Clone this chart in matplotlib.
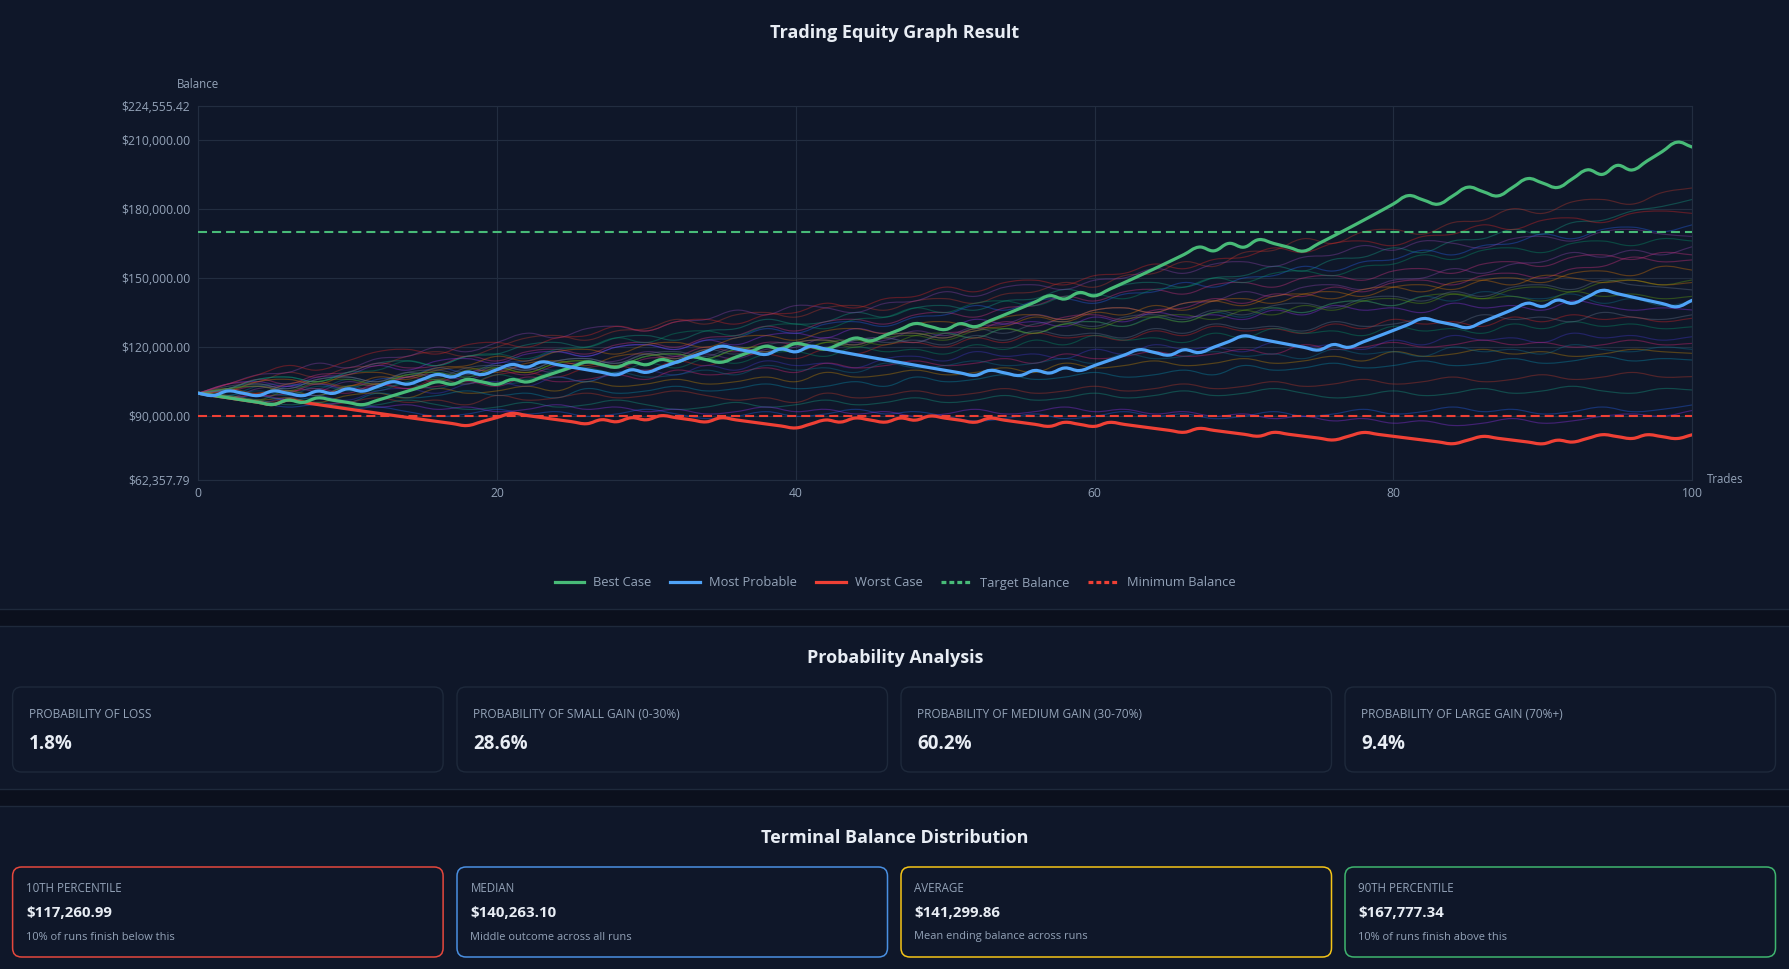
import matplotlib
matplotlib.use('Agg')
import matplotlib.pyplot as plt
import numpy as np
from matplotlib.path import Path
from matplotlib.patches import PathPatch, FancyBboxPatch, Rectangle
from matplotlib.lines import Line2D

plt.rcParams['font.family'] = ['Open Sans', 'DejaVu Sans']
plt.rcParams['lines.scale_dashes'] = False

# ---- data ----
trades = np.arange(0, 101)

best_case = [100000, 99000, 98010, 97030, 96060, 95099, 97001, 96031, 97952, 96972,
             96002, 95042, 96943, 98882, 100860, 102877, 104935, 103885, 105963, 104903,
             103854, 105931, 104872, 106969, 109109, 111291, 113517, 112382, 111258, 113483,
             112348, 114595, 113449, 115718, 114561, 113415, 115684, 117997, 120357, 119154,
             121537, 120321, 119118, 121500, 123930, 122691, 125144, 127647, 130200, 128898,
             127609, 130161, 128860, 131437, 134066, 136747, 139482, 142272, 140849, 143666,
             142229, 145074, 147975, 150935, 153954, 157033, 160174, 163377, 161743, 164978,
             163328, 166595, 164929, 163280, 161647, 164880, 168178, 171541, 174972, 178471,
             182041, 185681, 183824, 181986, 185626, 189338, 187445, 185571, 189282, 193068,
             191137, 189226, 193010, 196870, 194902, 198800, 196812, 200748, 204763, 208858,
             206769]

most_probable = [100000, 99000, 100980, 99970, 98970, 100950, 99940, 98941, 100920, 99911,
                 101909, 100890, 102908, 104966, 103916, 105995, 108115, 107034, 109174, 108082,
                 110244, 112449, 111324, 113551, 112415, 111291, 110178, 109076, 107985, 110145,
                 109044, 111225, 113449, 115718, 118033, 120393, 119189, 117997, 116817, 119154,
                 117962, 120322, 119119, 117928, 116748, 115581, 114425, 113281, 112148, 111027,
                 109916, 108817, 107729, 109884, 108785, 107697, 109851, 108753, 110928, 109819,
                 112015, 114255, 116540, 118871, 117682, 116505, 118835, 117647, 119999, 122399,
                 124847, 123599, 122363, 121139, 119928, 118729, 121103, 119892, 122290, 124736,
                 127231, 129775, 132371, 131047, 129737, 128439, 131008, 133628, 136301, 139027,
                 137636, 140389, 138985, 141765, 144600, 143154, 141722, 140305, 138902, 137513,
                 140263]

worst_case = [100000, 99000, 98010, 97030, 96060, 95099, 97001, 96031, 95071, 94120,
              93179, 92247, 91325, 90411, 89507, 88612, 87726, 86849, 85980, 87700,
              89454, 91243, 90330, 89427, 88533, 87647, 86771, 88506, 87621, 89373,
              88479, 90249, 89346, 88453, 87568, 89320, 88427, 87542, 86667, 85800,
              84942, 86641, 88374, 87490, 89240, 88348, 87464, 89214, 88322, 90088,
              89188, 88296, 87413, 89161, 88270, 87387, 86513, 85648, 87361, 86487,
              85622, 87335, 86461, 85597, 84741, 83893, 83054, 84715, 83868, 83030,
              82199, 81377, 83005, 82175, 81353, 80540, 79734, 81329, 82955, 82126,
              81305, 80492, 79687, 78890, 78101, 79663, 81256, 80444, 79639, 78843,
              78055, 79616, 78820, 80396, 82004, 81184, 80372, 81980, 81160, 80349,
              81956]

target_balance = 170000
minimum_balance = 90000

# the faint simulation runs, sampled every 2 trades (values in $k)
run01 = [100, 104, 105, 109, 107, 111, 112, 116, 118, 116, 120, 124, 125, 123, 127, 128, 132, 130, 134, 135, 133,
         137, 138, 136, 140, 141, 139, 143, 144, 148, 146, 151, 152, 157, 155, 161, 162, 167, 165, 170, 171,
         169, 174, 175, 180, 178, 183, 184, 182, 187, 189]
run02 = [100, 102, 106, 107, 105, 109, 113, 114, 112, 116, 117, 121, 122, 120, 124, 125, 123, 127, 128, 132, 130,
         131, 135, 133, 137, 138, 136, 140, 141, 145, 143, 147, 148, 146, 150, 151, 155, 153, 158, 159, 163,
         161, 166, 167, 171, 169, 174, 175, 179, 181, 184]
run03 = [100, 101, 99, 103, 104, 102, 106, 107, 111, 109, 113, 114, 118, 116, 120, 121, 119, 123, 124, 128, 126,
         130, 131, 129, 133, 134, 138, 136, 140, 141, 139, 143, 144, 148, 146, 150, 151, 155, 153, 157, 158,
         162, 160, 164, 165, 169, 167, 171, 172, 170, 173]
run04 = [100, 98, 102, 103, 101, 105, 103, 107, 108, 106, 110, 111, 109, 113, 114, 118, 116, 117, 115, 119, 120,
         124, 122, 123, 127, 125, 129, 130, 134, 132, 136, 137, 135, 139, 140, 144, 142, 146, 147, 145, 149,
         150, 154, 152, 156, 157, 161, 159, 162, 160, 163.5]
run05 = [100, 101, 99, 100, 104, 102, 103, 107, 105, 109, 110, 108, 112, 113, 111, 115, 116, 120, 118, 122, 121,
         119, 123, 124, 122, 126, 127, 131, 129, 133, 134, 132, 136, 137, 141, 139, 143, 142, 146, 144, 148,
         149, 147, 151, 152, 150, 154, 155, 159, 157, 157.8]
run06 = [100, 102, 100, 104, 105, 103, 107, 106, 110, 111, 109, 113, 114, 112, 116, 117, 115, 119, 120, 118, 122,
         123, 121, 125, 126, 124, 128, 129, 133, 131, 135, 134, 138, 136, 140, 141, 139, 143, 144, 142, 146,
         147, 145, 149, 150, 148, 152, 153, 151, 155, 153.4]
run07 = [100, 98, 97, 101, 99, 103, 104, 108, 106, 110, 111, 109, 113, 114, 112, 116, 117, 115, 119, 120, 118,
         122, 123, 121, 125, 126, 124, 128, 126, 130, 131, 129, 133, 134, 132, 136, 137, 135, 139, 140, 138,
         142, 143, 141, 145, 146, 144, 148, 149, 147, 149.1]
run08 = [100, 102, 104, 102, 106, 107, 105, 109, 107, 111, 112, 110, 114, 115, 113, 117, 118, 116, 120, 118, 122,
         123, 121, 125, 126, 124, 128, 126, 130, 131, 129, 133, 134, 132, 136, 134, 138, 139, 137, 141, 142,
         140, 144, 142, 146, 147, 145, 149, 147, 146, 144.8]
run09 = [100, 99, 103, 104, 102, 106, 104, 108, 109, 107, 111, 112, 110, 114, 112, 116, 117, 115, 119, 117, 121,
         119, 123, 124, 122, 126, 124, 128, 126, 130, 131, 129, 133, 131, 135, 133, 137, 135, 139, 140, 138,
         142, 140, 144, 142, 141, 143, 139, 141, 138, 139.7]
run10 = [100, 104, 105, 103, 107, 108, 112, 110, 114, 115, 113, 117, 118, 116, 120, 121, 119, 123, 121, 125, 126,
         124, 128, 126, 130, 128, 132, 130, 131, 129, 133, 131, 135, 133, 134, 132, 136, 134, 138, 136, 137,
         135, 139, 137, 138, 136, 140, 138, 136, 137, 136.1]
run11 = [100, 98, 100, 101, 99, 103, 104, 102, 106, 104, 108, 109, 107, 111, 112, 110, 114, 112, 116, 117, 115,
         119, 117, 121, 122, 120, 124, 122, 126, 124, 125, 123, 127, 125, 129, 127, 128, 126, 130, 128, 132,
         130, 131, 129, 133, 131, 134, 132, 133, 131, 132.5]
run12 = [100, 102, 103, 101, 99, 103, 101, 105, 106, 104, 108, 106, 110, 111, 109, 113, 111, 115, 113, 117, 118,
         116, 120, 118, 119, 117, 121, 119, 123, 121, 125, 123, 124, 122, 126, 124, 128, 126, 127, 125, 129,
         127, 128, 126, 130, 128, 131, 129, 130, 128, 128.8]
run13 = [100, 98, 96, 98, 99, 97, 101, 102, 100, 104, 105, 103, 107, 105, 109, 110, 108, 112, 110, 114, 112,
         113, 111, 115, 116, 114, 118, 116, 117, 115, 119, 117, 121, 119, 120, 118, 122, 120, 121, 119, 123,
         121, 125, 123, 124, 122, 126, 124, 125, 123, 124.5]
run14 = [100, 101, 103, 101, 102, 100, 104, 102, 103, 105, 103, 107, 105, 106, 108, 106, 110, 108, 109, 111, 109,
         113, 111, 112, 114, 112, 113, 115, 113, 117, 115, 116, 118, 116, 117, 119, 117, 121, 119, 120, 122,
         120, 121, 123, 121, 122, 120, 121, 123, 121, 121.6]
run15 = [100, 99, 97, 98, 96, 99, 100, 98, 102, 100, 101, 103, 101, 105, 103, 104, 106, 104, 105, 107, 105,
         109, 107, 108, 110, 108, 109, 111, 109, 113, 111, 112, 114, 112, 113, 115, 113, 114, 116, 114, 118,
         116, 117, 119, 117, 118, 116, 117, 119, 118, 117.3]
run16 = [100, 101, 99, 97, 98, 96, 100, 98, 99, 101, 99, 100, 98, 102, 100, 101, 103, 101, 102, 104, 102,
         103, 105, 103, 107, 105, 106, 108, 106, 107, 109, 107, 108, 110, 108, 112, 110, 111, 113, 111, 112,
         114, 112, 113, 115, 113, 114, 116, 114, 115, 114.4]
run17 = [100, 98, 96, 97, 95, 96, 98, 96, 97, 95, 99, 97, 98, 100, 98, 99, 101, 99, 97, 98, 96,
         100, 98, 99, 101, 99, 100, 102, 100, 101, 103, 101, 102, 104, 102, 103, 105, 103, 104, 106, 104,
         105, 107, 105, 106, 108, 106, 107, 109, 107, 107.2]
run18 = [100, 99, 97, 95, 96, 94, 95, 97, 95, 93, 94, 96, 94, 95, 97, 95, 93, 94, 96, 94, 95,
         97, 95, 96, 98, 96, 97, 99, 97, 98, 100, 98, 99, 101, 99, 100, 102, 100, 98, 99, 101,
         99, 100, 102, 100, 101, 103, 101, 100, 102, 101.4]
run19 = [100, 98, 96, 94, 95, 93, 94, 92, 90, 91, 93, 91, 92, 90, 91, 93, 91, 89, 90, 92, 90,
         91, 93, 91, 92, 90, 88, 89, 91, 89, 90, 92, 90, 91, 89, 90, 92, 90, 91, 93, 91,
         92, 94, 92, 93, 91, 92, 94, 92, 93, 94.9]
run20 = [100, 104, 108, 109, 113, 111, 115, 116, 120, 118, 122, 126, 124, 128, 129, 127, 131, 132, 136, 134, 138,
         137, 135, 139, 140, 144, 142, 146, 147, 145, 149, 150, 154, 152, 156, 157, 155, 159, 160, 164, 162,
         166, 165, 163, 167, 168, 166, 170, 171, 169, 168]
run21 = [100, 102, 106, 104, 108, 109, 113, 111, 112, 116, 114, 118, 119, 117, 121, 122, 120, 124, 125, 129, 127,
         131, 132, 130, 134, 135, 133, 137, 138, 142, 140, 144, 145, 143, 147, 148, 146, 150, 151, 149, 153,
         154, 152, 156, 157, 155, 159, 160, 158, 161, 160]
run22 = [100, 101, 105, 106, 104, 108, 109, 107, 111, 112, 116, 114, 118, 119, 117, 121, 122, 120, 124, 125, 123,
         127, 128, 126, 130, 131, 129, 133, 134, 132, 136, 137, 135, 139, 140, 138, 142, 143, 141, 145, 146,
         144, 148, 149, 147, 151, 150, 148, 149, 147, 148]
run23 = [100, 102, 103, 101, 105, 106, 104, 108, 109, 107, 111, 109, 113, 114, 112, 116, 117, 115, 119, 120, 118,
         122, 120, 124, 125, 123, 127, 128, 126, 130, 128, 132, 133, 131, 135, 136, 134, 138, 136, 140, 141,
         139, 143, 141, 142, 140, 144, 142, 143, 141, 142]
run24 = [100, 103, 104, 102, 106, 107, 105, 109, 110, 108, 112, 110, 114, 115, 113, 117, 115, 119, 117, 121, 122,
         120, 124, 122, 123, 121, 125, 123, 127, 125, 126, 124, 128, 126, 130, 128, 129, 127, 131, 129, 130,
         132, 130, 134, 132, 133, 131, 135, 133, 132, 134]
run25 = [100, 99, 101, 99, 103, 101, 102, 104, 102, 106, 104, 105, 107, 105, 109, 107, 108, 110, 108, 112, 110,
         111, 109, 113, 111, 112, 114, 112, 113, 115, 113, 117, 115, 116, 118, 116, 117, 115, 119, 117, 118,
         116, 120, 118, 119, 117, 121, 119, 118, 120, 119]
run26 = [100, 98, 99, 97, 95, 96, 94, 95, 93, 94, 92, 93, 95, 93, 94, 92, 93, 91, 92, 94, 92,
         93, 91, 92, 90, 91, 93, 91, 92, 94, 92, 93, 91, 92, 90, 91, 89, 90, 88, 89, 87,
         88, 86, 87, 89, 87, 88, 90, 91, 90, 92.5]
run27 = [100, 104, 108, 112, 110, 114, 118, 119, 117, 121, 122, 120, 124, 125, 129, 127, 131, 132, 130, 134, 135,
         139, 137, 141, 142, 146, 144, 148, 149, 147, 151, 152, 156, 154, 158, 159, 163, 161, 165, 166, 164,
         168, 169, 173, 171, 175, 176, 174, 178, 179, 178]
run28 = [100, 102, 106, 107, 105, 109, 110, 114, 112, 116, 117, 115, 119, 120, 124, 122, 126, 127, 125, 129, 130,
         128, 132, 133, 137, 135, 139, 140, 138, 142, 143, 141, 145, 146, 150, 148, 152, 153, 151, 155, 156,
         160, 158, 162, 163, 161, 165, 166, 164, 167, 166]
other_runs = [run01, run02, run03, run04, run05, run06, run07, run08, run09, run10, run11, run12, run13, run14,
              run15, run16, run17, run18, run19, run20, run21, run22, run23, run24, run25, run26, run27, run28]

y_min, y_max = 62357.79, 224555.42
y_ticks = [62357.79, 90000, 120000, 150000, 180000, 210000, 224555.42]
x_ticks = [0, 20, 40, 60, 80, 100]

legend_labels = ['Best Case', 'Most Probable', 'Worst Case', 'Target Balance', 'Minimum Balance']

prob_labels = ['PROBABILITY OF LOSS', 'PROBABILITY OF SMALL GAIN (0-30%)',
               'PROBABILITY OF MEDIUM GAIN (30-70%)', 'PROBABILITY OF LARGE GAIN (70%+)']
prob_values = ['1.8%', '28.6%', '60.2%', '9.4%']

term_labels = ['10TH PERCENTILE', 'MEDIAN', 'AVERAGE', '90TH PERCENTILE']
term_values = [117260.99, 140263.10, 141299.86, 167777.34]
term_notes = ['10% of runs finish below this', 'Middle outcome across all runs',
              'Mean ending balance across runs', '10% of runs finish above this']

# ---- styles ----
W, H = 1790, 969
PANEL = '#0f1729'
GAP = '#0b101d'
BORDER = '#1e293b'
GRID = '#222d40'
MUTED = '#94a3b8'
WHITE = '#e8edf4'
GREEN = '#48bb78'
BLUE = '#4fa3f7'
RED = '#ef4035'
run_colors = ['#c0392b', '#16a085', '#2563eb', '#8e44ad', '#d63384', '#d97706', '#65a30d',
              '#64748b', '#0e7490', '#9333ea', '#dc2626', '#059669', '#4338ca', '#db2777',
              '#ca8a04', '#0891b2']
card_colors = ['#e5483d', '#4a90e2', '#f5c518', '#3fb56f']


def smooth_line(ax, xs, ys, sx, sy, tension=0.4, **kw):
    # chart.js style bezier through every point
    px = np.asarray(xs, float) * sx
    py = np.asarray(ys, float) * sy
    n = len(px)
    cin, cout = [], []
    for i in range(n):
        a, b = max(i - 1, 0), min(i + 1, n - 1)
        d01 = np.hypot(px[i] - px[a], py[i] - py[a])
        d12 = np.hypot(px[b] - px[i], py[b] - py[i])
        tot = d01 + d12
        s01 = d01 / tot if tot else 0
        s12 = d12 / tot if tot else 0
        dx, dy = px[b] - px[a], py[b] - py[a]
        cin.append((px[i] - tension * s01 * dx, py[i] - tension * s01 * dy))
        cout.append((px[i] + tension * s12 * dx, py[i] + tension * s12 * dy))
    verts = [(px[0], py[0])]
    codes = [Path.MOVETO]
    for i in range(n - 1):
        verts += [cout[i], cin[i + 1], (px[i + 1], py[i + 1])]
        codes += [Path.CURVE4] * 3
    verts = np.array(verts) / [sx, sy]
    p = PathPatch(Path(verts, codes), fill=False, capstyle='round', joinstyle='round', **kw)
    ax.add_patch(p)
    return p


fig = plt.figure(figsize=(W / 100, H / 100), dpi=100)
fig.patch.set_facecolor(PANEL)

bg = fig.add_axes([0, 0, 1, 1])
bg.set_xlim(0, W)
bg.set_ylim(H, 0)
bg.axis('off')
bg.set_zorder(0)
for y0 in (609, 789):
    bg.add_patch(Rectangle((0, y0), W, 17, facecolor=GAP, edgecolor='none'))
for y0 in (609, 626, 789, 806):
    bg.plot([0, W], [y0, y0], color=BORDER, lw=1)

# ---- chart ----
L, R, T, B = 198.3, 1692, 106, 480
ax = fig.add_axes([L / W, 1 - B / H, (R - L) / W, (B - T) / H])
ax.set_zorder(1)
ax.patch.set_alpha(0)
ax.set_xlim(0, 100)
ax.set_ylim(y_min, y_max)
sx = (R - L) / 100
sy = (B - T) / (y_max - y_min)

for i, run in enumerate(other_runs):
    run_x = np.linspace(0, 100, len(run))
    smooth_line(ax, run_x, np.array(run) * 1000, sx, sy, color=run_colors[i % len(run_colors)],
                alpha=0.38, lw=0.85, zorder=2)

ax.axhline(target_balance, color=GREEN, lw=1.5, dashes=(6.5, 3.6), zorder=3)
ax.axhline(minimum_balance, color=RED, lw=1.5, dashes=(6.5, 3.6), zorder=3)

smooth_line(ax, trades, worst_case, sx, sy, color=RED, lw=2.3, zorder=4)
smooth_line(ax, trades, best_case, sx, sy, color=GREEN, lw=2.3, zorder=5)
smooth_line(ax, trades, most_probable, sx, sy, color=BLUE, lw=2.3, zorder=6)

ax.set_xticks(x_ticks)
ax.set_yticks(y_ticks)
ax.set_yticklabels(['${:,.2f}'.format(v) for v in y_ticks])
ax.tick_params(axis='both', length=0, colors=MUTED, labelsize=8.7)
ax.tick_params(axis='y', pad=5.8)
ax.tick_params(axis='x', pad=5.2)
ax.grid(True, color=GRID, lw=0.8)
ax.set_axisbelow(True)
for s in ax.spines.values():
    s.set_color(GRID)
    s.set_linewidth(0.8)

bg.text(198, 84, 'Balance', ha='center', va='center', fontsize=8.3, color=MUTED)
bg.text(1707, 479, 'Trades', ha='left', va='center', fontsize=8.3, color=MUTED)
bg.text(895, 33, 'Trading Equity Graph Result', ha='center', va='center',
        fontsize=13, fontweight='bold', color=WHITE)

handles = [Line2D([], [], color=GREEN, lw=2.3),
           Line2D([], [], color=BLUE, lw=2.3),
           Line2D([], [], color=RED, lw=2.3),
           Line2D([], [], color=GREEN, lw=2.3, dashes=(3.5, 2.2)),
           Line2D([], [], color=RED, lw=2.3, dashes=(3.5, 2.2))]
leg = ax.legend(handles, legend_labels, loc='center', ncol=5, frameon=False,
                bbox_to_anchor=(895 / W, 1 - 583 / H), bbox_transform=fig.transFigure,
                fontsize=9.3, labelcolor=MUTED, handlelength=2.3, handletextpad=0.7,
                columnspacing=1.45)

# ---- probability cards ----
card_x = [12.6, 457, 901, 1345]
card_w = 430.5
bg.text(895, 658, 'Probability Analysis', ha='center', va='center', fontsize=13,
        fontweight='bold', color=WHITE)
for x0, lab, val in zip(card_x, prob_labels, prob_values):
    bg.add_patch(FancyBboxPatch((x0, 687), card_w, 85, boxstyle='round,pad=0,rounding_size=9',
                                facecolor='none', edgecolor=BORDER, lw=1))
    bg.text(x0 + 16.5, 714, lab, ha='left', va='center', fontsize=8.6, color=MUTED)
    bg.text(x0 + 16.5, 744, val, ha='left', va='center', fontsize=13.5, fontweight='bold', color=WHITE)

# ---- terminal balance cards ----
bg.text(895, 838, 'Terminal Balance Distribution', ha='center', va='center', fontsize=13,
        fontweight='bold', color=WHITE)
for x0, lab, val, note, col in zip(card_x, term_labels, term_values, term_notes, card_colors):
    bg.add_patch(FancyBboxPatch((x0, 867), card_w, 90, boxstyle='round,pad=0,rounding_size=9',
                                facecolor='none', edgecolor=col, lw=1.1))
    bg.text(x0 + 13.5, 889, lab, ha='left', va='center', fontsize=8.3, color=MUTED)
    bg.text(x0 + 13.5, 913, '${:,.2f}'.format(val), ha='left', va='center', fontsize=10.8,
            fontweight='bold', color=WHITE)
    bg.text(x0 + 13.5, 937, note, ha='left', va='center', fontsize=7.9, color=MUTED)

fig.savefig('out.png', dpi=100, facecolor=fig.get_facecolor())
